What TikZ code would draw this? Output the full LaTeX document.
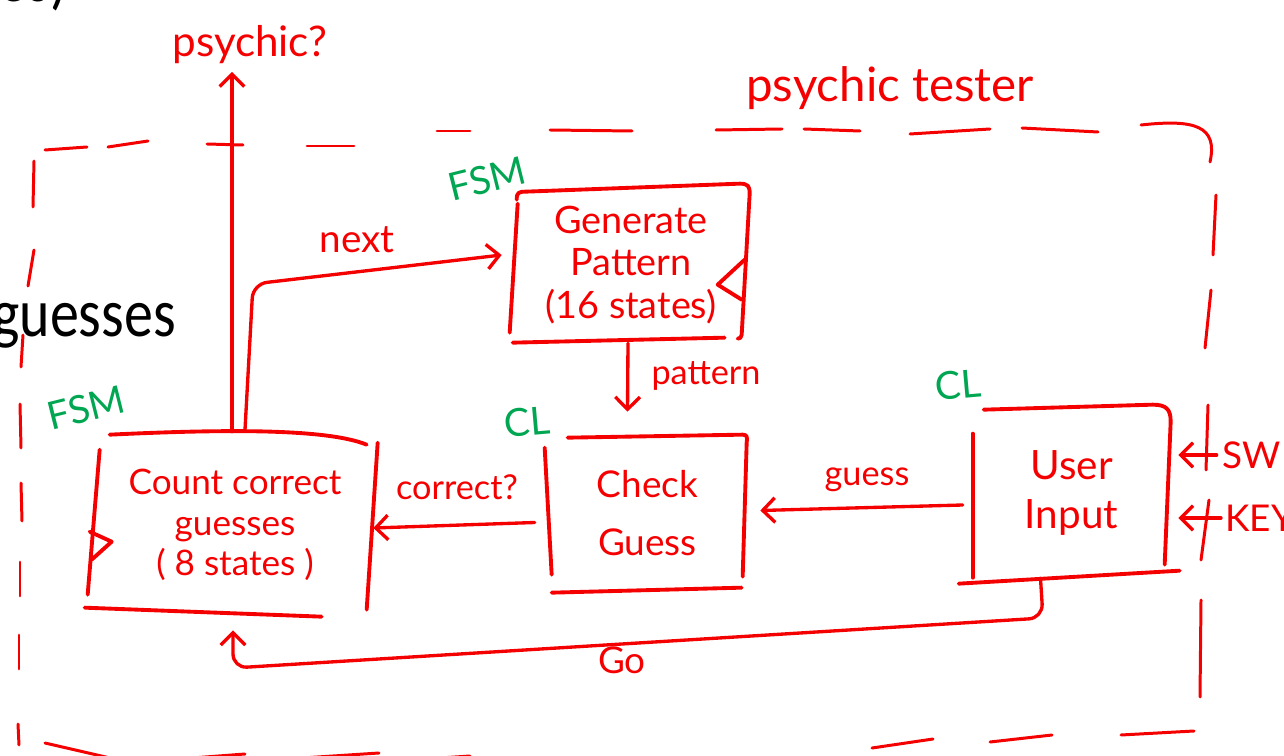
\documentclass[tikz,border=0pt]{standalone}
\usepackage{fontspec}
\setmainfont{Lato}
\newfontfamily\slidefont{Carlito}
\usetikzlibrary{arrows.meta,calc}
\definecolor{pen}{RGB}{245,0,0}
\definecolor{tag}{RGB}{0,166,81}

\begin{document}
\begin{tikzpicture}[x=0.02cm, y=-0.02cm,
  every node/.style={text=pen, inner sep=0pt},
  box/.style={draw=none, align=center},
  side/.style={draw=pen, line width=2.2pt, line cap=round, line join=round},
  border/.style={draw=pen, line width=1.7pt, line cap=round},
  wire/.style={draw=pen, line width=1.9pt, line cap=round, line join=round,
    -{Straight Barb[length=7pt,width=14pt,line width=1.9pt]}},
  lbl/.style={font=\fontsize{19.5}{22}\selectfont},
  tagtext/.style={text=tag, font=\fontsize{22}{24}\selectfont},
]
\useasboundingbox (0,0) rectangle (1284,756);

% slide text behind the sketch
\node[anchor=base east, text=black, font=\slidefont\fontsize{33}{36}\selectfont] (slidetop) at (68,2) {\scalebox{1}[1.18]{es)}};
\node[anchor=base west, text=black, font=\slidefont\fontsize{33}{36}\selectfont] (slide) at (-8,337) {\scalebox{1}[1.18]{guesses}};

% dashed outline of the tester
\foreach \a/\b/\c/\d in {45/150/87/147, 108/147/148/141, 207/144/243/145, 307/146/354/146,
  437/131/470/131, 550/130/632/131, 716/130/782/129, 804/129/860/131, 910/134/990/129,
  1022/128/1098/132,
  1216/195/1213/255, 1211/290/1205/348, 1208/405/1206/470, 1209/500/1201/560, 1201/600/1200/697,
  45/743/110/758, 192/758/245/754, 302/758/379/753, 440/758/470/756,
  872/748/933/739, 990/742/1052/735, 1121/735/1194/731,
  34/161/33/207, 34/250/28/286, 23/335/21/367, 20/404/21/448, 21/483/22/521,
  20/562/20/596, 19/635/19/669, 18/724/19/745}
  \draw[border] (\a,\b) -- (\c,\d);
\draw[border] (1141,125) .. controls (1195,119) and (1218,126) .. (1210,162);
\node[font=\fontsize{27}{30}\selectfont] (title) at (890,88) {psychic tester};

% blocks
\node[box, minimum width=5.6cm, minimum height=3.4cm, font=\fontsize{20}{23}\selectfont] (cnt) at (235,525) {Count correct\\guesses\\( 8 states )};
\node[box, minimum width=4.68cm, minimum height=3cm, font=\fontsize{21.5}{24}\selectfont] (gen) at (631,265) {Generate\\Pattern\\(16 states)};
\node[box, minimum width=3.9cm, minimum height=3.06cm, font=\fontsize{21}{33}\selectfont] (chk) at (647.5,513.5) {Check\\Guess};
\node[box, minimum width=3.94cm, minimum height=3.4cm, font=\fontsize{23}{28}\selectfont] (ui) at (1071.5,493) {User\\Input};

% hand-drawn frames
\begin{scope}[shift={(gen.north west)}]
  \draw[side] (3,10) .. controls (3,3) and (5,2) .. (12,2) -- (226,-6) .. controls (234,-6) and (236,-4) .. (236,4) -- (228,145) .. controls (228,148) and (226,149) .. (224,149);
  \draw[side] (4,14) -- (-4,143);
  \draw[side] (-1,153) -- (211,148);
  \draw[side] (231,70) -- (204,95) -- (228,110);
\end{scope}
\begin{scope}[shift={(chk.north west)}]
  \draw[side] (18,1) -- (193,-2) .. controls (197,-2) and (198,0) .. (197,6) -- (193,140);
  \draw[side] (-5,11) -- (2,138);
  \draw[side] (2,156) -- (192,151);
\end{scope}
\begin{scope}[shift={(cnt.north west)}]
  \draw[side] (15,-5) .. controls (120,-10) and (230,-12) .. (272,5);
  \draw[side] (5,10) -- (-7,155);
  \draw[side] (-10,168) -- (227,177);
  \draw[side] (283,3) -- (272,170);
  \draw[side] (-5,92) -- (17,102) -- (-3,120);
\end{scope}
\begin{scope}[shift={(ui.north west)}]
  \draw[side] (11,2) -- (180,-3) .. controls (194,-3) and (198,2) .. (198,14) -- (192,157);
  \draw[side] (0,26) -- (0,170);
  \draw[side] (-14,176) -- (207,163);
\end{scope}

% block kinds
\node[tagtext, rotate=14] (fsmgen) at (487,179) {FSM};
\node[tagtext, rotate=14] (fsmcnt) at (86,408) {FSM};
\node[tagtext, rotate=5] (clchk) at (527,422) {CL};
\node[tagtext, rotate=5] (clui) at (958,385) {CL};

% signals
\node[font=\fontsize{24}{26}\selectfont] (psy) at (250,45) {psychic?};
\draw[wire] ([shift={(-3,-8)}]cnt.north) -- ([shift={(-18,27)}]psy.center);

\node[font=\fontsize{22}{24}\selectfont] (nextlbl) at (357,240) {next};
\draw[wire, rounded corners=8pt] ([shift={(10,-10)}]cnt.north) -- (253,284) -- ([shift={(-12,-10)}]gen.west);

\node[lbl] (patlbl) at (706,376) {pattern};
\draw[wire] ([shift={(-3,3)}]gen.south) -- ([shift={(-20,-25)}]chk.north);

\node[lbl] (guesslbl) at (867,480) {guess};
\draw[wire] ([shift={(-10,12)}]ui.west) -- ([shift={(15,-3)}]chk.east);

\node[lbl] (corrlbl) at (457,487) {correct?};
\draw[wire] ([shift={(-15,9)}]chk.west) -- ([shift={(-2,3)}]cnt.east);

\node[font=\fontsize{21}{24}\selectfont] (golbl) at (622,660) {Go};
\draw[wire, rounded corners=8pt] ([shift={(-31,0)}]ui.south) -- (1043,618) -- (233,668) -- ([shift={(-2,20)}]cnt.south);

\node[font=\fontsize{21}{24}\selectfont] (sw) at (1252,455) {SW};
\draw[wire] ([shift={(-6,0)}]sw.west) -- ([shift={(8,-38)}]ui.east);
\node[anchor=west, font=\fontsize{21}{24}\selectfont] (key) at (1225,518) {KEY};
\draw[wire] ([shift={(-4,0)}]key.west) -- ([shift={(8,25)}]ui.east);
\end{tikzpicture}
\end{document}
